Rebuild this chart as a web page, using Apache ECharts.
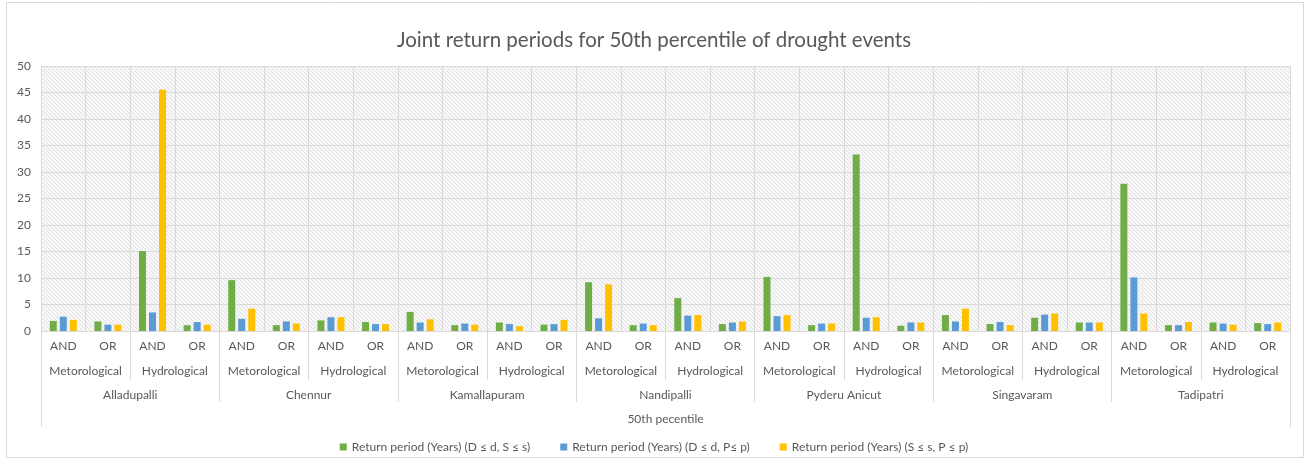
<!DOCTYPE html>
<html>
<head>
<meta charset="utf-8">
<script src="https://cdn.jsdelivr.net/npm/echarts@6/dist/echarts.min.js"></script>
<style>
  html, body { margin: 0; padding: 0; background: #ffffff; }
  #chart { width: 1308px; height: 461px; }
</style>
</head>
<body>
<div id="chart"></div>
<script>
// Joint return periods (years) for the 50th percentile drought events
const stations = ['Alladupalli', 'Chennur', 'Kamallapuram', 'Nandipalli', 'Pyderu Anicut', 'Singavaram', 'Tadipatri'];
const droughtTypes = ['Metorological', 'Hydrological'];
const joins = ['AND', 'OR'];
const percentileLabel = '50th pecentile';

const seriesNames = [
  'Return period (Years) (D \u2264 d, S \u2264 s)',
  'Return period (Years) (D \u2264 d, P\u2264 p)',
  'Return period (Years) (S \u2264 s, P \u2264 p)'
];

// Order: station -> Met AND, Met OR, Hyd AND, Hyd OR
const returnDS = [
  1.9, 1.8, 15.1, 1.1,
  9.6, 1.1, 2.0, 1.7,
  3.6, 1.1, 1.6, 1.2,
  9.2, 1.1, 6.2, 1.3,
  10.2, 1.1, 33.3, 1.0,
  3.0, 1.3, 2.5, 1.6,
  27.8, 1.1, 1.6, 1.5
];
const returnDP = [
  2.7, 1.2, 3.5, 1.7,
  2.3, 1.8, 2.6, 1.3,
  1.6, 1.4, 1.3, 1.3,
  2.4, 1.4, 2.9, 1.6,
  2.8, 1.4, 2.5, 1.6,
  1.8, 1.7, 3.1, 1.6,
  10.1, 1.1, 1.4, 1.3
];
const returnSP = [
  2.1, 1.2, 45.5, 1.2,
  4.2, 1.4, 2.6, 1.3,
  2.2, 1.2, 0.9, 2.1,
  8.8, 1.1, 3.0, 1.8,
  3.0, 1.4, 2.6, 1.6,
  4.2, 1.1, 3.3, 1.6,
  3.3, 1.7, 1.2, 1.6
];

const yMin = 0, yMax = 50, yStep = 5;
const colors = ['#70AD47', '#5B9BD5', '#FFC000'];

// Category levels for the nested axis
const level1 = [], level2 = [];
stations.forEach(function () {
  droughtTypes.forEach(function (t) {
    level2.push(t);
    joins.forEach(function (j) { level1.push(j); });
  });
});

// Diagonal hatch fill for the plot area
function hatchTile() {
  const c = document.createElement('canvas');
  c.width = 4; c.height = 4;
  const g = c.getContext('2d');
  g.fillStyle = '#f7f7f7';
  g.fillRect(0, 0, 4, 4);
  g.strokeStyle = '#e2e2e2';
  g.lineWidth = 1;
  g.beginPath();
  g.moveTo(-1, -1); g.lineTo(5, 5);
  g.moveTo(-1, 3); g.lineTo(1, 5);
  g.moveTo(3, -1); g.lineTo(5, 1);
  g.stroke();
  return c;
}

const textColor = '#595959';
const lineColor = '#d9d9d9';
const font = 'Lato, "Open Sans", sans-serif';

const chart = echarts.init(document.getElementById('chart'), null, { renderer: 'canvas' });

function levelAxis(data, tickLen, margin) {
  return {
    type: 'category',
    position: 'bottom',
    data: data,
    gridIndex: 0,
    axisLine: { show: false },
    axisTick: { show: true, length: tickLen, interval: 0, lineStyle: { color: lineColor } },
    axisLabel: { interval: 0, margin: margin, color: textColor, fontSize: 12, fontFamily: font },
    splitLine: { show: false }
  };
}

chart.setOption({
  animation: false,
  backgroundColor: '#ffffff',
  title: {
    text: 'Joint return periods for 50th percentile of drought events',
    left: 'center',
    top: 25,
    textStyle: { color: textColor, fontSize: 20.5, fontWeight: 'normal', fontFamily: font }
  },
  graphic: [{
    type: 'rect',
    shape: { x: 6.5, y: 2.5, width: 1297, height: 455 },
    style: { fill: 'none', stroke: lineColor, lineWidth: 1 },
    silent: true,
    z: -1
  }],
  legend: {
    bottom: 3,
    left: 'center',
    itemWidth: 7,
    itemHeight: 7,
    itemGap: 30,
    icon: 'rect',
    textStyle: { color: textColor, fontSize: 12, fontFamily: font },
    data: seriesNames
  },
  grid: {
    left: 41, right: 18, top: 66, bottom: 130,
    show: true,
    borderWidth: 0,
    backgroundColor: { image: hatchTile(), repeat: 'repeat' }
  },
  xAxis: [
    {
      type: 'category',
      position: 'bottom',
      data: level1,
      axisLine: { show: true, lineStyle: { color: lineColor } },
      axisTick: { show: false },
      axisLabel: { interval: 0, margin: 9, color: textColor, fontSize: 12, fontFamily: font },
      splitLine: { show: true, interval: 0, lineStyle: { color: lineColor } }
    },
    levelAxis(level2, 49, 34),
    levelAxis(stations, 71, 58),
    levelAxis([percentileLabel], 96, 82)
  ],
  yAxis: {
    type: 'value',
    min: yMin, max: yMax, interval: yStep,
    axisLine: { show: false },
    axisTick: { show: false },
    axisLabel: { color: textColor, fontSize: 12, fontFamily: font, margin: 10 },
    splitLine: { lineStyle: { color: lineColor } }
  },
  series: [returnDS, returnDP, returnSP].map(function (vals, i) {
    return {
      name: seriesNames[i],
      type: 'bar',
      xAxisIndex: 0,
      data: vals,
      barWidth: 7,
      barGap: '43%',
      itemStyle: { color: colors[i] }
    };
  })
});
</script>
</body>
</html>
